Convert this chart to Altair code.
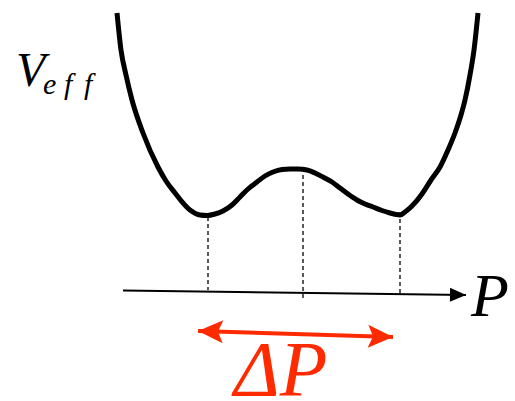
import math
import altair as alt
import pandas as pd

# Effective potential V_eff(P): a double well with a central barrier
P_curve = [-1.85, -1.81, -1.76, -1.70, -1.59, -1.44, -1.36, -1.27, -1.12, -1.02,
           -0.95, -0.87, -0.79, -0.70, -0.62, -0.54, -0.45, -0.37, -0.29, -0.20,
           -0.12, -0.04, 0.05, 0.13, 0.21, 0.30, 0.38, 0.46, 0.55, 0.63,
           0.71, 0.80, 0.88, 0.94, 0.98, 1.03, 1.10, 1.20, 1.29, 1.38,
           1.46, 1.53, 1.59, 1.63, 1.68, 1.72, 1.76]
V_curve = [2.79, 2.42, 2.17, 1.92, 1.59, 1.25, 1.11, 0.99, 0.82, 0.77,
           0.765, 0.78, 0.81, 0.87, 0.95, 1.03, 1.10, 1.16, 1.20, 1.225,
           1.23, 1.23, 1.22, 1.19, 1.15, 1.10, 1.04, 0.98, 0.92, 0.88,
           0.85, 0.815, 0.79, 0.775, 0.77, 0.80, 0.86, 0.98, 1.12, 1.25,
           1.42, 1.59, 1.77, 1.92, 2.17, 2.42, 2.79]

# Dashed drop lines: the two minima and the barrier top
drop_P = [-0.94, 0.01, 0.98]
drop_top = [0.75, 1.17, 0.80]
drop_bottom = [0.02, -0.09, -0.01]

# P axis (start, arrow tip)
axis_P = [-1.79, 1.64]
axis_V = [0.015, -0.03]

# Delta P double arrow (left tip, right tip)
delta_P = [-1.04, 0.91]
delta_V = [-0.39, -0.45]

RED = "#ff2a00"
FONT = "Liberation Serif"

x_scale = alt.Scale(domain=[-3.02, 2.13])
y_scale = alt.Scale(domain=[-1.09, 2.92])


def xy(xf="P", yf="V"):
    return dict(
        x=alt.X(f"{xf}:Q", scale=x_scale, axis=None),
        y=alt.Y(f"{yf}:Q", scale=y_scale, axis=None),
    )


def screen_angle(p, v):
    # rotation (clockwise degrees) of the segment in screen space; both
    # scales use the same pixels per unit
    return math.degrees(math.atan2(-(v[1] - v[0]), p[1] - p[0]))


def label(text, p, v, size, color="black"):
    df = pd.DataFrame({"P": [p], "V": [v]})
    return alt.Chart(df).mark_text(
        font=FONT, fontStyle="italic", fontSize=size, color=color,
        align="left",
    ).encode(text=alt.value(text), **xy())


labels = [
    label("V", -2.86, 2.20, 48),
    label("e", -2.59, 2.07, 30),
    label("f", -2.38, 2.07, 30),
    label("f", -2.18, 2.07, 30),
    label("P", 1.69, -0.05, 62),
    label("ΔP", -0.68, -0.80, 78, RED),
]

curve_df = pd.DataFrame({"P": P_curve, "V": V_curve, "i": range(len(P_curve))})
curve = alt.Chart(curve_df).mark_line(
    color="black", strokeWidth=5, interpolate="monotone"
).encode(order="i:O", **xy())

drops_df = pd.DataFrame({"P": drop_P, "V": drop_top, "V2": drop_bottom})
drops = alt.Chart(drops_df).mark_rule(
    color="black", strokeWidth=1.3, strokeDash=[4, 3]
).encode(y2="V2:Q", **xy())

axis_df = pd.DataFrame({"P": axis_P, "V": axis_V, "i": [0, 1]})
axis_line = alt.Chart(axis_df).mark_line(color="black", strokeWidth=2).encode(
    order="i:O", **xy()
)
axis_head = alt.Chart(axis_df.iloc[[1]]).mark_point(
    shape="M0,0 L-2,-0.875 L-2,0.875 Z", size=256, filled=True,
    color="black", opacity=1, strokeWidth=0,
    angle=screen_angle(axis_P, axis_V) % 360,
).encode(**xy())

delta_df = pd.DataFrame({"P": delta_P, "V": delta_V, "i": [0, 1]})
theta = screen_angle(delta_P, delta_V)
delta_line = alt.Chart(delta_df).mark_line(color=RED, strokeWidth=4).encode(
    order="i:O", **xy()
)
stealth = "M0,0 L-2,-0.92 L-1.6,0 L-2,0.92 Z"
delta_head_r = alt.Chart(delta_df.iloc[[1]]).mark_point(
    shape=stealth, size=625, filled=True, color=RED, opacity=1,
    strokeWidth=0, angle=theta % 360,
).encode(**xy())
delta_head_l = alt.Chart(delta_df.iloc[[0]]).mark_point(
    shape=stealth, size=625, filled=True, color=RED, opacity=1,
    strokeWidth=0, angle=(theta + 180) % 360,
).encode(**xy())

chart = alt.layer(
    *labels,
    drops, axis_line, axis_head, curve, delta_line, delta_head_l, delta_head_r,
).properties(
    width=515, height=401, autosize=alt.AutoSizeParams(type="none"), padding=0,
).configure_view(stroke=None)

chart.save("out.html", embed_options={"renderer": "svg", "actions": False})
